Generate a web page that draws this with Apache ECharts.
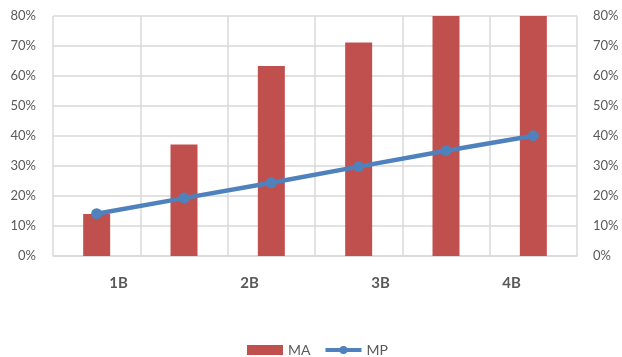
<!DOCTYPE html>
<html>
<head>
<meta charset="utf-8">
<script src="https://cdn.jsdelivr.net/npm/echarts@6/dist/echarts.min.js"></script>
<style>html,body{margin:0;padding:0;background:#fff;}#c{width:622px;height:357px;}</style>
</head>
<body>
<div id="c"></div>
<script>
var slots = ['s1', 's2', 's3', 's4', 's5', 's6'];
var groupLabels = ['1B', '2B', '3B', '4B'];
var maValues = [14, 37.2, 63.3, 71.2, 80, 80];
var mpValues = [14.1, 19.3, 24.4, 29.8, 35.1, 40.1];
var yTicks = [0, 80, 10];

var FONT = 'Lato';
var chart = echarts.init(document.getElementById('c'));
chart.setOption({
  animation: false,
  textStyle: { fontFamily: FONT },
  grid: { left: 53, right: 45, top: 16, bottom: 101 },
  legend: {
    top: 338,
    left: 242,
    itemWidth: 36,
    itemHeight: 10,
    itemGap: 13,
    textStyle: { color: '#595959', fontSize: 14, fontFamily: FONT },
    data: [
      { name: 'MA', icon: 'rect' },
      { name: 'MP', lineStyle: { width: 4 } }
    ]
  },
  xAxis: [
    {
      type: 'category',
      data: slots,
      axisLabel: { show: false },
      axisTick: { show: false },
      axisLine: { show: true, lineStyle: { color: '#d9d9d9', width: 1.5 } },
      splitLine: { show: true, lineStyle: { color: '#d9d9d9', width: 1.5 } }
    },
    {
      type: 'category',
      data: groupLabels,
      position: 'bottom',
      axisLine: { show: false },
      axisTick: { show: false },
      splitLine: { show: false },
      axisLabel: { color: '#595959', fontSize: 15, fontWeight: 'bold', margin: 20, fontFamily: FONT }
    }
  ],
  yAxis: [
    {
      type: 'value', min: yTicks[0], max: yTicks[1], interval: yTicks[2],
      axisLine: { show: false }, axisTick: { show: false },
      splitLine: { show: true, lineStyle: { color: '#d9d9d9', width: 1.5 } },
      axisLabel: { formatter: '{value}%', color: '#595959', fontSize: 13, margin: 17, fontFamily: FONT }
    },
    {
      type: 'value', min: yTicks[0], max: yTicks[1], interval: yTicks[2], position: 'right',
      axisLine: { show: false }, axisTick: { show: false },
      splitLine: { show: false },
      axisLabel: { formatter: '{value}%', color: '#595959', fontSize: 13, margin: 16, fontFamily: FONT }
    }
  ],
  series: [
    {
      name: 'MA', type: 'bar', xAxisIndex: 0, yAxisIndex: 0,
      data: maValues, barWidth: 27,
      itemStyle: { color: '#c0504d' }
    },
    {
      name: 'MP', type: 'line', xAxisIndex: 0, yAxisIndex: 0,
      data: mpValues,
      symbol: 'circle', symbolSize: 11,
      lineStyle: { color: '#4f81bd', width: 4.5 },
      itemStyle: { color: '#4f81bd' }
    }
  ]
});
</script>
</body>
</html>
